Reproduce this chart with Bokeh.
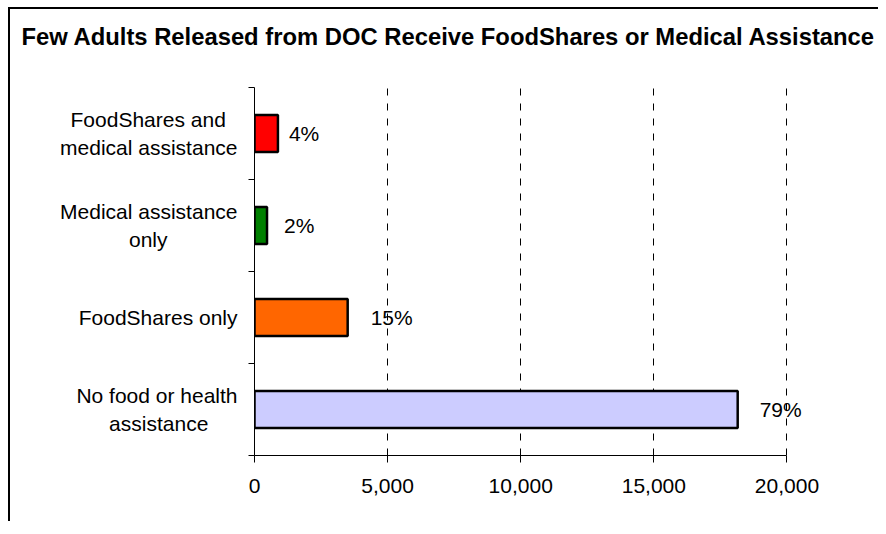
from bokeh.plotting import figure
from bokeh.models import Range1d, FixedTicker, NumeralTickFormatter, ColumnDataSource
from bokeh.core.properties import value
from bokeh.embed import file_html
from bokeh.resources import INLINE

# ---- data (top to bottom) ----
categories = ["FoodShares and\nmedical assistance", "Medical assistance\nonly",
              "FoodShares only", "No food or health\nassistance"]
counts = [880, 470, 3500, 18150]
pct_labels = ["4%", "2%", "15%", "79%"]
bar_colors = ["#FF0000", "#008000", "#FF6600", "#CCCCFF"]
x_ticks = [0, 5000, 10000, 15000, 20000]
grid_ticks = [5000, 10000, 15000, 20000]
title_text = "Few Adults Released from DOC Receive FoodShares or Medical Assistance"

# style-only: label offsets (px) and no-break-space padding so that the
# shorter line of each two-line category label sits centred under the longer one
pct_offsets = [11, 17, 23, 22]
center_pad = [2, 12, 0, 5]

NBSP = "\u00a0"


def centred(label, pad):
    lines = label.split("\n")
    if len(lines) < 2 or pad == 0:
        return label
    longest = max(range(len(lines)), key=lambda i: len(lines[i]))
    return "\n".join(l if i == longest else l + NBSP * pad for i, l in enumerate(lines))


n = len(categories)
ypos = [n - i - 0.5 for i in range(n)]

FONT = "Liberation Sans"

# a blank second title line keeps the title near the top of the chart area
p = figure(frame_width=599, frame_height=368,
           min_border_left=244, min_border_right=25, min_border_top=78, min_border_bottom=66,
           x_range=Range1d(0, 22500), y_range=Range1d(0, n),
           output_backend="svg", toolbar_location=None, title=title_text + "\n" + NBSP)
p.styles = {"border-left": "2px solid black", "border-top": "2px solid black",
            "margin-left": "8px", "margin-top": "7px"}

xa = p.below[0]
ya = p.left[0]

p.title.text_font = FONT
p.title.text_font_size = "23.8px"
p.title.text_font_style = "bold"
p.title.text_color = "black"
p.title.align = "left"
p.title.vertical_align = "bottom"
p.title.offset = -233
p.title.standoff = 21

p.outline_line_color = None
p.background_fill_color = "white"
p.border_fill_color = "white"

src = ColumnDataSource(dict(y=ypos, v=counts, c=bar_colors, lab=pct_labels, off=pct_offsets))

p.hbar(y="y", right="v", left=0, height=0.4, fill_color="c", line_color="black",
       line_width=2.5, source=src)

p.text(x="v", y="y", text="lab", x_offset="off", text_baseline="middle",
       text_align="left", text_font=value(FONT), text_font_size="21px",
       text_color="black", source=src)

# x axis
xa.ticker = FixedTicker(ticks=x_ticks)
xa.bounds = (x_ticks[0], x_ticks[-1])
xa.formatter = NumeralTickFormatter(format="0,0")
xa.minor_tick_line_color = None
xa.major_tick_in = 0
xa.major_tick_out = 7
xa.major_label_standoff = 16
xa.major_label_text_font = FONT
xa.major_label_text_font_size = "21px"
xa.major_label_text_color = "black"
xa.axis_line_color = "black"
xa.major_tick_line_color = "black"

# y axis: category labels at centres, ticks at category boundaries
ya.ticker = FixedTicker(ticks=ypos, minor_ticks=list(range(n + 1)))
ya.major_label_overrides = {y: centred(c, pd) for y, c, pd in zip(ypos, categories, center_pad)}
ya.major_tick_in = 0
ya.major_tick_out = 0
ya.major_label_standoff = 11
ya.major_label_text_font = FONT
ya.major_label_text_font_size = "21px"
ya.major_label_text_color = "black"
ya.minor_tick_in = 0
ya.minor_tick_out = 6
ya.minor_tick_line_color = "black"
ya.axis_line_color = "black"

p.ygrid.grid_line_color = None
p.xgrid.ticker = FixedTicker(ticks=grid_ticks)
p.xgrid.grid_line_color = "black"
p.xgrid.grid_line_dash = "7 8"
p.xgrid.grid_line_width = 1

open("out.html", "w").write(file_html(p, INLINE))
